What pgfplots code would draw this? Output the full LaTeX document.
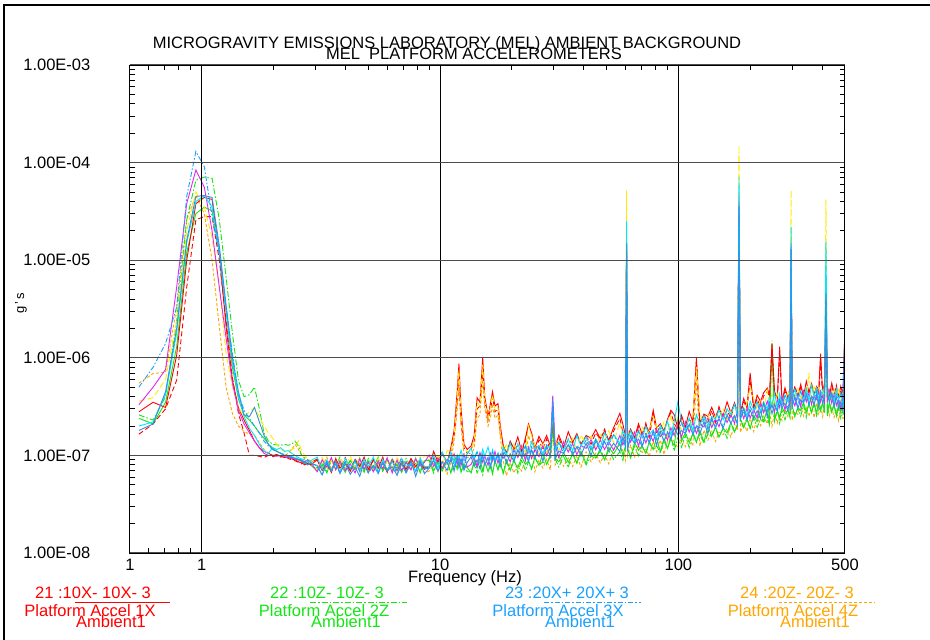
\documentclass[border=0pt]{standalone}
\usepackage{fontspec}
\setmainfont{Liberation Sans}
\usepackage{pgfplots}
\usepackage{pgfplotstable}
\pgfplotsset{compat=1.18}

\definecolor{cRed}{RGB}{255,0,0}
\definecolor{cGrn}{RGB}{20,230,20}
\definecolor{cBlu}{RGB}{25,160,255}
\definecolor{cOra}{RGB}{255,165,0}
\definecolor{cMag}{RGB}{225,40,240}
\definecolor{cYel}{RGB}{255,235,0}
\definecolor{cCya}{RGB}{0,230,255}
\definecolor{cStl}{RGB}{60,140,220}

% columns: frequency, then the ten accelerometer channels (g's)
\pgfplotstableread{
f r g b o m y c rd gs sb
0.545 2.8e-7 2.6e-7 5.0e-7 5.5e-7 3.3e-7 3.6e-7 2.0e-7 1.65e-7 2.4e-7 1.8e-7
0.625 3.5e-7 2.3e-7 8.0e-7 6.9e-7 5.0e-7 3.9e-7 2.2e-7 2.1e-7 2.1e-7 2.1e-7
0.705 3.1e-7 4.0e-7 1.4e-6 7.1e-7 7.6e-7 6.0e-7 4.2e-7 3.0e-7 3.5e-7 4.5e-7
0.785 1.06e-6 2.4e-6 3.3e-6 3.3e-6 5.3e-6 2.4e-6 1.8e-6 5.9e-7 1.3e-6 2.0e-6
0.865 1.0e-5 2.6e-5 4.5e-5 2.6e-5 3.8e-5 2.0e-5 1.5e-5 5.3e-6 1.2e-5 1.6e-5
0.945 3.8e-5 6.6e-5 1.3e-4 4.6e-5 8.4e-5 5.0e-5 4.0e-5 2.6e-5 3.0e-5 4.5e-5
1.025 4.4e-5 7.1e-5 9.1e-5 3.0e-5 5.6e-5 3.5e-5 4.6e-5 2.8e-5 3.5e-5 4.6e-5
1.105 4.2e-5 6.9e-5 2.8e-5 1.0e-5 2.0e-5 1.7e-5 3.5e-5 2.8e-5 3.2e-5 4.4e-5
1.185 1.17e-5 2.6e-5 1.17e-5 2.1e-6 5.3e-6 5.3e-6 1.2e-5 1.0e-5 1.2e-5 1.4e-5
1.265 2.1e-6 6.7e-6 3.3e-6 5.0e-7 1.6e-6 1.1e-6 3.0e-6 2.4e-6 3.0e-6 3.5e-6
1.345 5.9e-7 1.8e-6 1.1e-6 2.7e-7 5.5e-7 5.0e-7 9.0e-7 6.3e-7 8.0e-7 1.0e-6
1.425 3.1e-7 5.9e-7 4.3e-7 2.0e-7 2.9e-7 3.1e-7 4.0e-7 2.7e-7 3.8e-7 4.5e-7
1.505 2.3e-7 4.0e-7 2.9e-7 1.76e-7 2.1e-7 2.5e-7 2.5e-7 1.7e-7 2.6e-7 2.6e-7
1.585 1.8e-7 4.2e-7 2.4e-7 1.65e-7 1.7e-7 2.8e-7 1.9e-7 1.0e-7 2.3e-7 2.5e-7
1.665 1.4e-7 5.0e-7 2.0e-7 1.6e-7 1.4e-7 3.1e-7 1.6e-7 1.0e-7 2.0e-7 3.1e-7
1.745 1.2e-7 3.0e-7 1.7e-7 1.35e-7 1.2e-7 2.5e-7 1.3e-7 0.98e-7 1.7e-7 2.2e-7
1.825 1.1e-7 1.7e-7 1.4e-7 1.15e-7 1.05e-7 2.0e-7 1.1e-7 0.95e-7 1.5e-7 1.6e-7
1.905 1.05e-7 1.4e-7 1.25e-7 1.05e-7 1.0e-7 1.7e-7 1.05e-7 1.0e-7 1.3e-7 1.3e-7
1.985 1.0e-7 1.3e-7 1.15e-7 1.0e-7 1.0e-7 1.5e-7 1.2e-7 0.97e-7 1.2e-7 1.15e-7
2.065 1.02e-7 1.28e-7 1.1e-7 1.02e-7 0.98e-7 1.3e-7 1.15e-7 1.0e-7 1.1e-7 1.1e-7
2.145 0.98e-7 1.27e-7 1.05e-7 0.99e-7 1.0e-7 1.15e-7 1.2e-7 0.96e-7 1.05e-7 1.05e-7
2.225 0.95e-7 1.3e-7 1.02e-7 1.0e-7 0.97e-7 1.1e-7 1.1e-7 1.0e-7 1.0e-7 1.0e-7
2.305 0.97e-7 1.27e-7 1.0e-7 1.05e-7 0.95e-7 1.12e-7 1.12e-7 0.93e-7 0.98e-7 0.97e-7
2.385 0.92e-7 1.3e-7 0.97e-7 1.15e-7 0.93e-7 1.15e-7 1.05e-7 0.9e-7 0.95e-7 0.95e-7
2.465 0.9e-7 1.4e-7 0.95e-7 1.3e-7 0.92e-7 1.2e-7 1.0e-7 0.88e-7 0.94e-7 0.93e-7
2.545 0.86e-7 1.25e-7 0.92e-7 1.15e-7 0.9e-7 1.4e-7 0.95e-7 0.85e-7 0.92e-7 0.9e-7
2.625 0.84e-7 1.0e-7 0.9e-7 1.0e-7 0.88e-7 1.1e-7 0.92e-7 0.82e-7 0.88e-7 0.87e-7
2.705 0.8e-7 0.95e-7 0.86e-7 0.92e-7 0.86e-7 1.0e-7 0.9e-7 0.86e-7 0.82e-7 0.84e-7
2.785 0.83e-7 0.9e-7 0.82e-7 0.88e-7 0.9e-7 0.92e-7 0.86e-7 0.8e-7 0.86e-7 0.8e-7
2.865 0.8e-7 0.86e-7 0.84e-7 0.85e-7 0.85e-7 0.88e-7 0.88e-7 0.84e-7 0.8e-7 0.83e-7
3.05 0.90e-7 0.74e-7 0.78e-7 0.91e-7 0.68e-7 0.69e-7 0.96e-7 0.92e-7 0.69e-7 0.79e-7
3.2 0.70e-7 0.86e-7 0.63e-7 0.77e-7 0.90e-7 0.95e-7 0.72e-7 0.73e-7 0.81e-7 0.63e-7
3.35 0.83e-7 0.69e-7 0.87e-7 0.96e-7 0.76e-7 0.75e-7 0.90e-7 0.85e-7 0.66e-7 0.83e-7
3.5 0.67e-7 0.91e-7 0.69e-7 0.72e-7 0.95e-7 0.89e-7 0.70e-7 0.68e-7 0.90e-7 0.70e-7
3.65 0.93e-7 0.77e-7 0.81e-7 0.90e-7 0.71e-7 0.71e-7 0.83e-7 0.90e-7 0.72e-7 0.88e-7
3.8 0.74e-7 0.96e-7 0.65e-7 0.70e-7 0.88e-7 0.93e-7 0.67e-7 0.76e-7 0.84e-7 0.66e-7
4.0 0.86e-7 0.72e-7 0.86e-7 0.83e-7 0.70e-7 0.79e-7 0.93e-7 0.95e-7 0.67e-7 0.82e-7
4.2 0.69e-7 0.90e-7 0.72e-7 0.67e-7 0.82e-7 0.98e-7 0.74e-7 0.71e-7 0.89e-7 0.64e-7
4.4 0.91e-7 0.70e-7 0.90e-7 0.93e-7 0.66e-7 0.74e-7 0.86e-7 0.88e-7 0.75e-7 0.76e-7
4.6 0.77e-7 0.83e-7 0.68e-7 0.74e-7 0.92e-7 0.92e-7 0.69e-7 0.70e-7 0.94e-7 0.61e-7
4.8 0.96e-7 0.67e-7 0.84e-7 0.86e-7 0.73e-7 0.72e-7 0.91e-7 0.82e-7 0.70e-7 0.85e-7
5.0 0.72e-7 0.93e-7 0.66e-7 0.69e-7 0.85e-7 0.85e-7 0.77e-7 0.66e-7 0.87e-7 0.67e-7
5.25 0.90e-7 0.74e-7 0.78e-7 0.91e-7 0.68e-7 0.69e-7 0.96e-7 0.92e-7 0.69e-7 0.79e-7
5.5 0.74e-7 0.96e-7 0.65e-7 0.70e-7 0.88e-7 0.93e-7 0.67e-7 0.76e-7 0.84e-7 0.66e-7
5.75 0.96e-7 0.67e-7 0.84e-7 0.86e-7 0.73e-7 0.72e-7 0.91e-7 0.82e-7 0.70e-7 0.85e-7
6.0 0.67e-7 0.91e-7 0.69e-7 0.72e-7 0.95e-7 0.89e-7 0.70e-7 0.68e-7 0.90e-7 0.70e-7
6.3 0.91e-7 0.70e-7 0.90e-7 0.93e-7 0.66e-7 0.74e-7 0.86e-7 0.88e-7 0.75e-7 0.76e-7
6.6 0.70e-7 0.86e-7 0.63e-7 0.77e-7 0.90e-7 0.95e-7 0.72e-7 0.73e-7 0.81e-7 0.63e-7
6.9 0.86e-7 0.72e-7 0.86e-7 0.83e-7 0.70e-7 0.79e-7 0.93e-7 0.95e-7 0.67e-7 0.82e-7
7.2 0.72e-7 0.93e-7 0.66e-7 0.69e-7 0.85e-7 0.85e-7 0.77e-7 0.66e-7 0.87e-7 0.67e-7
7.55 0.93e-7 0.77e-7 0.81e-7 0.90e-7 0.71e-7 0.71e-7 0.83e-7 0.90e-7 0.72e-7 0.88e-7
7.9 0.77e-7 0.83e-7 0.68e-7 0.74e-7 0.92e-7 0.92e-7 0.69e-7 0.70e-7 0.94e-7 0.61e-7
8.25 0.85e-7 0.69e-7 0.88e-7 0.95e-7 0.78e-7 0.78e-7 0.93e-7 0.88e-7 0.66e-7 0.84e-7
8.6 0.72e-7 0.89e-7 0.73e-7 0.66e-7 0.85e-7 1.0e-7 0.77e-7 0.74e-7 0.88e-7 0.65e-7
9.0 0.77e-7 0.89e-7 0.74e-7 0.69e-7 1.01e-7 0.96e-7 0.77e-7 0.77e-7 0.90e-7 0.74e-7
9.4 1.10e-7 0.66e-7 0.90e-7 0.83e-7 0.77e-7 0.78e-7 1.0e-7 0.94e-7 0.70e-7 0.89e-7
9.8 0.85e-7 0.94e-7 0.69e-7 0.68e-7 0.94e-7 1.01e-7 0.74e-7 0.86e-7 0.84e-7 0.69e-7
10.2 1.06e-7 0.71e-7 0.86e-7 0.87e-7 0.74e-7 0.77e-7 1.08e-7 1.07e-7 0.69e-7 0.86e-7
10.7 0.83e-7 0.87e-7 0.81e-7 0.64e-7 0.91e-7 1.12e-7 0.84e-7 0.85e-7 0.89e-7 0.70e-7
11.1 1.2e-7 0.66e-7 1.0e-7 0.85e-7 0.86e-7 1.1e-7 1.09e-7 1.1e-7 0.66e-7 0.93e-7
11.45 1.8e-7 0.80e-7 0.77e-7 1.4e-7 1.04e-7 1.6e-7 0.83e-7 1.6e-7 0.94e-7 0.69e-7
11.8 4.5e-7 0.74e-7 0.93e-7 3.0e-7 0.81e-7 3.8e-7 1.01e-7 3.5e-7 0.72e-7 0.98e-7
12.0 8.7e-7 0.89e-7 0.76e-7 5.0e-7 0.97e-7 7.5e-7 0.93e-7 6.5e-7 0.87e-7 0.75e-7
12.25 3.0e-7 0.69e-7 0.98e-7 2.0e-7 0.79e-7 2.5e-7 1.13e-7 2.2e-7 0.67e-7 0.92e-7
12.6 1.3e-7 0.83e-7 0.72e-7 1.0e-7 1.03e-7 1.2e-7 0.87e-7 1.2e-7 0.81e-7 0.71e-7
13.0 1.15e-7 0.68e-7 1.03e-7 0.95e-7 0.76e-7 1.08e-7 1.05e-7 1.05e-7 0.75e-7 0.85e-7
13.5 1.25e-7 0.68e-7 1.05e-7 0.98e-7 0.81e-7 1.15e-7 1.18e-7 1.15e-7 0.66e-7 0.97e-7
13.9 1.6e-7 0.84e-7 0.88e-7 1.2e-7 0.96e-7 1.4e-7 0.94e-7 1.4e-7 0.88e-7 0.77e-7
14.3 3.9e-7 0.66e-7 1.10e-7 2.4e-7 0.77e-7 3.5e-7 1.10e-7 3.0e-7 0.74e-7 0.90e-7
14.7 3.5e-7 0.78e-7 0.83e-7 2.6e-7 1.07e-7 3.2e-7 0.88e-7 3.2e-7 0.92e-7 0.73e-7
15.1 10.0e-7 0.63e-7 1.03e-7 6.0e-7 0.85e-7 8.5e-7 1.16e-7 7.5e-7 0.69e-7 1.01e-7
15.4 4.0e-7 0.87e-7 0.81e-7 3.0e-7 0.99e-7 3.6e-7 0.98e-7 3.5e-7 0.86e-7 0.80e-7
15.9 2.5e-7 0.69e-7 0.96e-7 2.0e-7 0.79e-7 2.4e-7 1.22e-7 2.3e-7 0.68e-7 0.94e-7
16.3 3.5e-7 0.81e-7 0.77e-7 2.5e-7 1.05e-7 3.2e-7 0.92e-7 3.0e-7 0.80e-7 0.75e-7
16.6 4.5e-7 0.65e-7 1.07e-7 3.2e-7 0.88e-7 4.2e-7 1.14e-7 4.0e-7 0.65e-7 0.99e-7
17.0 3.2e-7 0.86e-7 0.85e-7 2.4e-7 1.10e-7 2.9e-7 0.90e-7 2.8e-7 0.89e-7 0.84e-7
17.5 3.4e-7 0.72e-7 0.99e-7 2.6e-7 0.83e-7 3.1e-7 1.06e-7 3.0e-7 0.71e-7 1.04e-7
17.9 2.0e-7 0.90e-7 0.79e-7 1.5e-7 1.03e-7 1.8e-7 0.86e-7 1.7e-7 0.83e-7 0.78e-7
18.4 1.27e-7 0.65e-7 1.14e-7 0.88e-7 0.94e-7 1.01e-7 1.23e-7 1.25e-7 0.66e-7 1.06e-7
19.0 1.06e-7 0.85e-7 0.95e-7 0.62e-7 1.03e-7 1.33e-7 1.02e-7 1.05e-7 0.90e-7 0.83e-7
19.7 1.40e-7 0.70e-7 1.04e-7 0.84e-7 0.86e-7 0.94e-7 1.34e-7 1.37e-7 0.70e-7 1.03e-7
20.4 1.17e-7 0.93e-7 0.88e-7 0.66e-7 1.14e-7 1.30e-7 0.96e-7 1.16e-7 0.88e-7 0.87e-7
21.2 1.55e-7 0.66e-7 1.15e-7 0.82e-7 0.95e-7 1.02e-7 1.32e-7 1.26e-7 0.74e-7 1.14e-7
22.0 1.09e-7 0.90e-7 0.96e-7 0.69e-7 1.25e-7 1.26e-7 1.02e-7 1.06e-7 0.97e-7 0.95e-7
22.8 1.5e-7 0.70e-7 1.26e-7 0.90e-7 0.88e-7 1.06e-7 1.27e-7 1.39e-7 0.81e-7 1.04e-7
23.5 2.1e-7 0.87e-7 0.89e-7 1.6e-7 1.21e-7 2.0e-7 1.07e-7 2.0e-7 0.88e-7 0.87e-7
24.2 1.7e-7 0.72e-7 1.21e-7 1.3e-7 0.93e-7 1.6e-7 1.38e-7 1.7e-7 0.73e-7 1.13e-7
25 1.20e-7 0.94e-7 0.94e-7 0.68e-7 1.16e-7 1.25e-7 1.15e-7 1.06e-7 0.96e-7 0.94e-7
26 1.57e-7 0.79e-7 1.17e-7 0.90e-7 0.97e-7 1.04e-7 1.26e-7 1.45e-7 0.79e-7 1.23e-7
27 1.31e-7 0.86e-7 0.98e-7 0.74e-7 1.26e-7 1.37e-7 1.05e-7 1.13e-7 1.05e-7 0.87e-7
28 1.60e-7 0.81e-7 1.19e-7 0.91e-7 0.99e-7 1.06e-7 1.28e-7 1.48e-7 0.81e-7 1.26e-7
29 1.25e-7 0.97e-7 0.98e-7 0.71e-7 1.20e-7 1.29e-7 1.19e-7 1.10e-7 1.0e-7 0.97e-7
29.7 2.3e-7 2.0e-7 3.8e-7 1.8e-7 4.1e-7 2.5e-7 2.8e-7 2.2e-7 1.9e-7 3.3e-7
30.4 1.23e-7 0.92e-7 0.94e-7 0.80e-7 1.28e-7 1.45e-7 1.13e-7 1.21e-7 0.94e-7 0.91e-7
31.5 1.61e-7 0.76e-7 1.36e-7 0.97e-7 0.95e-7 1.14e-7 1.37e-7 1.49e-7 0.86e-7 1.11e-7
33 1.21e-7 0.99e-7 1.06e-7 0.77e-7 1.38e-7 1.39e-7 1.14e-7 1.17e-7 1.07e-7 1.05e-7
34.5 1.75e-7 0.75e-7 1.31e-7 0.94e-7 1.08e-7 1.15e-7 1.49e-7 1.44e-7 0.85e-7 1.29e-7
36 1.36e-7 1.08e-7 1.01e-7 0.77e-7 1.32e-7 1.50e-7 1.11e-7 1.33e-7 1.02e-7 1.01e-7
37.5 1.67e-7 0.83e-7 1.24e-7 1.0e-7 1.02e-7 1.12e-7 1.60e-7 1.62e-7 0.84e-7 1.22e-7
39 1.30e-7 1.03e-7 1.16e-7 0.76e-7 1.26e-7 1.63e-7 1.25e-7 1.29e-7 1.11e-7 1.01e-7
41 1.60e-7 0.80e-7 1.43e-7 1.09e-7 1.18e-7 1.27e-7 1.55e-7 1.57e-7 0.82e-7 1.33e-7
43 1.50e-7 0.99e-7 1.13e-7 0.86e-7 1.45e-7 1.57e-7 1.20e-7 1.30e-7 1.20e-7 1.0e-7
45 1.84e-7 0.93e-7 1.37e-7 1.05e-7 1.14e-7 1.22e-7 1.48e-7 1.71e-7 0.94e-7 1.45e-7
47 1.48e-7 1.18e-7 1.11e-7 0.84e-7 1.44e-7 1.64e-7 1.21e-7 1.46e-7 1.11e-7 1.11e-7
49 1.77e-7 0.90e-7 1.49e-7 1.01e-7 1.15e-7 1.41e-7 1.71e-7 1.86e-7 0.90e-7 1.39e-7
51 1.43e-7 1.13e-7 1.28e-7 0.82e-7 1.38e-7 1.79e-7 1.37e-7 1.41e-7 1.21e-7 1.11e-7
53.5 1.93e-7 0.91e-7 1.62e-7 1.16e-7 1.13e-7 1.36e-7 1.63e-7 1.78e-7 1.04e-7 1.33e-7
56.8 2.7e-7 1.09e-7 1.24e-7 1.3e-7 1.60e-7 2.2e-7 1.33e-7 2.4e-7 1.32e-7 1.10e-7
58.5 2.09e-7 0.89e-7 1.56e-7 1.11e-7 1.28e-7 1.37e-7 1.78e-7 1.71e-7 1.0e-7 1.53e-7
60 1.58e-7 1.23e-7 1.23e-7 0.89e-7 1.51e-7 1.63e-7 1.51e-7 1.39e-7 1.25e-7 1.22e-7
60.6 1.2e-5 1.6e-5 1.5e-5 1.0e-5 1.3e-5 5.2e-5 2.5e-5 1.1e-5 1.4e-5 1.5e-5
61.2 1.55e-7 1.16e-7 1.18e-7 1.0e-7 1.61e-7 1.83e-7 1.42e-7 1.53e-7 1.18e-7 1.15e-7
63 1.86e-7 0.94e-7 1.66e-7 1.27e-7 1.37e-7 1.47e-7 1.79e-7 1.83e-7 0.96e-7 1.55e-7
65.5 1.52e-7 1.25e-7 1.33e-7 0.96e-7 1.74e-7 1.75e-7 1.43e-7 1.47e-7 1.35e-7 1.32e-7
68 2.11e-7 0.99e-7 1.78e-7 1.28e-7 1.24e-7 1.49e-7 1.79e-7 1.96e-7 1.13e-7 1.47e-7
70.5 1.65e-7 1.23e-7 1.26e-7 1.07e-7 1.71e-7 1.95e-7 1.51e-7 1.63e-7 1.25e-7 1.23e-7
73 2.05e-7 1.04e-7 1.73e-7 1.16e-7 1.34e-7 1.63e-7 1.97e-7 2.15e-7 1.05e-7 1.61e-7
75.5 1.74e-7 1.36e-7 1.36e-7 0.98e-7 1.66e-7 1.79e-7 1.65e-7 1.53e-7 1.38e-7 1.34e-7
78.4 2.9e-7 1.14e-7 1.68e-7 1.4e-7 1.40e-7 2.5e-7 1.82e-7 2.7e-7 1.15e-7 1.78e-7
81 1.91e-7 1.26e-7 1.43e-7 1.09e-7 1.84e-7 1.99e-7 1.53e-7 1.65e-7 1.52e-7 1.27e-7
84 2.11e-7 1.06e-7 1.88e-7 1.44e-7 1.56e-7 1.67e-7 2.03e-7 2.06e-7 1.09e-7 1.76e-7
87 1.77e-7 1.40e-7 1.58e-7 1.02e-7 1.72e-7 2.22e-7 1.70e-7 1.76e-7 1.50e-7 1.38e-7
90 2.35e-7 1.18e-7 1.75e-7 1.41e-7 1.44e-7 1.58e-7 2.26e-7 2.30e-7 1.18e-7 1.73e-7
93 2.9e-7 1.56e-7 1.47e-7 1.5e-7 1.92e-7 2.6e-7 1.61e-7 2.75e-7 1.48e-7 1.46e-7
96 2.62e-7 1.11e-7 1.95e-7 1.39e-7 1.60e-7 1.72e-7 2.22e-7 2.13e-7 1.25e-7 1.91e-7
99.6 1.87e-7 1.54e-7 1.64e-7 1.19e-7 2.14e-7 2.15e-7 3.6e-7 1.81e-7 2.4e-7 1.62e-7
103 2.58e-7 1.21e-7 2.17e-7 1.55e-7 1.52e-7 1.83e-7 2.19e-7 2.40e-7 1.39e-7 1.79e-7
107 1.94e-7 1.61e-7 1.70e-7 1.23e-7 2.22e-7 2.24e-7 1.82e-7 1.87e-7 1.72e-7 1.69e-7
111 2.82e-7 1.20e-7 2.11e-7 1.50e-7 1.73e-7 1.86e-7 2.41e-7 2.31e-7 1.35e-7 2.08e-7
115 2.21e-7 1.75e-7 1.65e-7 1.25e-7 2.15e-7 2.45e-7 1.81e-7 2.18e-7 1.66e-7 1.64e-7
119 10.0e-7 1.36e-7 2.03e-7 6.0e-7 1.68e-7 8.0e-7 2.62e-7 9.0e-7 1.37e-7 2.0e-7
123 2.14e-7 1.69e-7 1.91e-7 1.24e-7 2.07e-7 2.68e-7 2.05e-7 2.12e-7 1.81e-7 1.66e-7
128 2.65e-7 1.33e-7 2.37e-7 1.81e-7 1.96e-7 2.10e-7 2.55e-7 2.60e-7 1.37e-7 2.21e-7
133 2.51e-7 1.65e-7 1.88e-7 1.43e-7 2.42e-7 2.62e-7 2.01e-7 2.17e-7 2.0e-7 1.67e-7
138 3.11e-7 1.56e-7 2.31e-7 1.77e-7 1.93e-7 2.06e-7 2.50e-7 2.88e-7 1.57e-7 2.44e-7
143 2.47e-7 1.93e-7 1.93e-7 1.39e-7 2.37e-7 2.55e-7 2.35e-7 2.17e-7 1.96e-7 1.91e-7
148 3.02e-7 1.53e-7 2.55e-7 1.73e-7 1.97e-7 2.41e-7 2.91e-7 3.17e-7 1.54e-7 2.39e-7
154 2.53e-7 1.89e-7 1.93e-7 1.63e-7 2.62e-7 2.99e-7 2.32e-7 2.49e-7 1.91e-7 1.88e-7
160 3.54e-7 1.50e-7 2.64e-7 1.89e-7 2.17e-7 2.32e-7 3.01e-7 2.89e-7 1.70e-7 2.60e-7
166 2.73e-7 2.13e-7 2.13e-7 1.54e-7 2.61e-7 2.82e-7 2.60e-7 2.40e-7 2.17e-7 2.12e-7
172 3.47e-7 1.73e-7 2.58e-7 2.10e-7 2.13e-7 2.34e-7 3.34e-7 3.40e-7 1.74e-7 2.55e-7
177 2.78e-7 2.07e-7 2.13e-7 1.80e-7 2.88e-7 3.28e-7 2.55e-7 2.75e-7 2.10e-7 2.06e-7
179.6 3.5e-5 4.0e-5 3.5e-5 3.0e-5 4.5e-5 1.5e-4 7.2e-5 3.2e-5 3.8e-5 3.6e-5
182 2.71e-7 2.23e-7 2.37e-7 1.72e-7 3.10e-7 3.12e-7 2.54e-7 2.61e-7 2.39e-7 2.35e-7
188 3.83e-7 1.93e-7 2.85e-7 2.18e-7 2.38e-7 2.55e-7 3.08e-7 3.56e-7 1.94e-7 3.01e-7
194 3.11e-7 2.46e-7 2.32e-7 1.76e-7 3.02e-7 3.44e-7 2.54e-7 3.06e-7 2.33e-7 2.31e-7
200 7.0e-7 1.89e-7 3.15e-7 2.4e-7 2.43e-7 5.0e-7 3.58e-7 6.0e-7 1.90e-7 2.93e-7
207 3.04e-7 2.41e-7 2.72e-7 1.76e-7 2.94e-7 3.80e-7 2.92e-7 3.01e-7 2.58e-7 2.37e-7
214 4.14e-7 1.94e-7 3.48e-7 2.49e-7 2.44e-7 2.93e-7 3.51e-7 3.83e-7 2.23e-7 2.87e-7
221 3.56e-7 2.35e-7 2.67e-7 2.02e-7 3.45e-7 3.73e-7 2.86e-7 3.08e-7 2.86e-7 2.37e-7
228 4.40e-7 2.21e-7 3.27e-7 2.51e-7 2.73e-7 2.92e-7 3.53e-7 4.08e-7 2.23e-7 3.46e-7
236 4.9e-7 2.45e-7 2.79e-7 2.11e-7 3.60e-7 4.6e-7 2.98e-7 4.5e-7 2.98e-7 2.48e-7
241 4.09e-7 2.06e-7 3.64e-7 2.78e-7 3.01e-7 3.24e-7 3.94e-7 4.01e-7 2.11e-7 3.40e-7
247 14.0e-7 15.0e-7 3.06e-7 1.98e-7 3.32e-7 4.28e-7 3.28e-7 12.0e-7 13.0e-7 2.67e-7
253 4.54e-7 2.26e-7 3.37e-7 2.74e-7 2.79e-7 3.05e-7 4.36e-7 4.43e-7 2.28e-7 3.33e-7
260 3.80e-7 3.01e-7 2.84e-7 2.15e-7 3.70e-7 4.22e-7 3.11e-7 3.73e-7 2.85e-7 2.83e-7
266 13.0e-7 2.14e-7 3.75e-7 2.68e-7 3.08e-7 3.30e-7 4.28e-7 11.0e-7 2.41e-7 3.69e-7
272 3.57e-7 2.94e-7 3.13e-7 2.27e-7 4.08e-7 4.11e-7 3.35e-7 3.45e-7 3.16e-7 3.10e-7
280 4.94e-7 2.31e-7 4.15e-7 2.97e-7 2.91e-7 3.49e-7 4.19e-7 4.57e-7 2.66e-7 3.42e-7
288 3.87e-7 2.89e-7 2.96e-7 2.50e-7 4.01e-7 4.57e-7 3.55e-7 3.82e-7 2.93e-7 2.87e-7
294 4.81e-7 2.44e-7 4.06e-7 2.74e-7 3.13e-7 3.83e-7 4.63e-7 5.04e-7 2.45e-7 3.79e-7
297 1.3e-5 1.4e-5 1.3e-5 1.2e-5 1.5e-5 5.2e-5 2.2e-5 1.25e-5 1.35e-5 1.3e-5
300 4.05e-7 3.18e-7 3.17e-7 2.29e-7 3.89e-7 4.19e-7 3.87e-7 3.57e-7 3.23e-7 3.15e-7
308 4.95e-7 2.50e-7 4.17e-7 2.82e-7 3.22e-7 3.94e-7 4.76e-7 5.18e-7 2.52e-7 3.90e-7
317 4.08e-7 3.05e-7 3.12e-7 2.64e-7 4.23e-7 4.83e-7 3.74e-7 4.03e-7 3.09e-7 3.03e-7
326 5.36e-7 2.52e-7 4.51e-7 3.22e-7 3.16e-7 3.79e-7 4.55e-7 4.97e-7 2.89e-7 3.71e-7
335 3.99e-7 3.29e-7 3.50e-7 2.53e-7 4.56e-7 4.60e-7 3.75e-7 3.85e-7 3.53e-7 3.47e-7
344 5.76e-7 2.45e-7 4.30e-7 3.07e-7 3.53e-7 3.78e-7 4.90e-7 4.71e-7 2.76e-7 4.23e-7
353 4.45e-7 3.53e-7 3.33e-7 2.52e-7 4.33e-7 7.0e-7 3.64e-7 4.39e-7 3.35e-7 3.31e-7
362 5.44e-7 2.72e-7 4.05e-7 3.28e-7 3.35e-7 3.66e-7 5.23e-7 5.32e-7 2.74e-7 4.0e-7
371 4.20e-7 3.32e-7 3.74e-7 2.43e-7 4.06e-7 5.24e-7 4.02e-7 4.14e-7 3.56e-7 3.26e-7
380 5.09e-7 2.55e-7 4.54e-7 3.47e-7 3.75e-7 4.03e-7 4.91e-7 4.98e-7 2.63e-7 4.23e-7
388 4.70e-7 3.10e-7 3.53e-7 2.67e-7 4.55e-7 4.92e-7 3.78e-7 4.07e-7 3.77e-7 3.12e-7
395 11.0e-7 2.86e-7 4.23e-7 3.25e-7 3.53e-7 3.78e-7 4.57e-7 9.5e-7 2.89e-7 4.46e-7
403 4.40e-7 3.45e-7 3.44e-7 2.49e-7 4.22e-7 4.56e-7 4.20e-7 3.87e-7 3.51e-7 3.41e-7
410 5.47e-7 2.72e-7 4.06e-7 3.29e-7 3.35e-7 3.67e-7 5.24e-7 5.34e-7 2.75e-7 4.0e-7
416 3.5e-6 4.0e-6 4.6e-6 3.0e-6 5.0e-6 4.2e-5 1.55e-5 3.2e-6 3.8e-6 4.4e-6
422 5.03e-7 2.53e-7 4.49e-7 3.43e-7 3.72e-7 3.98e-7 4.85e-7 4.94e-7 2.60e-7 4.20e-7
430 4.03e-7 3.33e-7 3.53e-7 2.56e-7 4.61e-7 4.64e-7 3.78e-7 3.90e-7 3.56e-7 3.50e-7
440 5.51e-7 2.77e-7 4.10e-7 3.15e-7 3.42e-7 3.66e-7 4.43e-7 5.11e-7 2.80e-7 4.33e-7
450 4.32e-7 3.43e-7 3.23e-7 2.45e-7 4.21e-7 4.80e-7 3.54e-7 4.26e-7 3.25e-7 3.21e-7
460 5.0e-7 2.53e-7 4.22e-7 2.85e-7 3.26e-7 3.97e-7 4.80e-7 5.24e-7 2.55e-7 3.94e-7
470 3.91e-7 3.10e-7 3.49e-7 2.26e-7 3.79e-7 4.90e-7 3.75e-7 3.87e-7 3.32e-7 3.04e-7
480 5.11e-7 2.39e-7 4.30e-7 3.07e-7 3.01e-7 3.61e-7 4.33e-7 4.73e-7 2.75e-7 3.54e-7
490 4.22e-7 2.79e-7 3.17e-7 2.39e-7 4.08e-7 4.41e-7 3.39e-7 3.65e-7 3.38e-7 2.81e-7
497 14.0e-7 2.6e-7 13.0e-7 2.5e-7 3.5e-7 4.0e-7 3.8e-7 12.0e-7 2.7e-7 11.0e-7
500 3.88e-7 3.04e-7 3.04e-7 2.19e-7 3.73e-7 4.01e-7 3.71e-7 3.42e-7 3.09e-7 3.02e-7
}\spectra

\begin{document}
\fontsize{16.5}{19}\selectfont
\begin{tikzpicture}
\useasboundingbox (-130pt,-87pt) rectangle (800pt,553pt);
\begin{axis}[
    at={(0pt,0pt)}, anchor=south west,
    scale only axis, width=715pt, height=488pt,
    xmode=log, ymode=log,
    xmin=0.5, xmax=500, ymin=1e-8, ymax=1e-3,
    xtick={0.5,1,10,100,500},
    xticklabels={1,1,10,100,500},
    ytick={1e-8,1e-7,1e-6,1e-5,1e-4,1e-3},
    yticklabels={1.00E-08,1.00E-07,1.00E-06,1.00E-05,1.00E-04,1.00E-03},
    minor xtick={0.6,0.7,0.8,0.9,2,3,4,5,6,7,8,9,20,30,40,50,60,70,80,90,200,300,400},
    minor ytick={2e-8,3e-8,4e-8,5e-8,6e-8,7e-8,8e-8,9e-8,
                 2e-7,3e-7,4e-7,5e-7,6e-7,7e-7,8e-7,9e-7,
                 2e-6,3e-6,4e-6,5e-6,6e-6,7e-6,8e-6,9e-6,
                 2e-5,3e-5,4e-5,5e-5,6e-5,7e-5,8e-5,9e-5,
                 2e-4,3e-4,4e-4,5e-4,6e-4,7e-4,8e-4,9e-4},
    tick align=inside,
    major tick length=0pt, minor tick length=5pt,
    tick style={black, line width=0.8pt},
    xmajorgrids, ymajorgrids,
    x grid style={black, line width=1pt},
    y grid style={black!70, line width=1.3pt},
    axis line style={black, line width=1pt},
    axis on top,
    tick label style={font=\fontsize{16.5}{19}\selectfont},
    yticklabel style={xshift=-34pt},
    every axis plot/.append style={line width=0.9pt},
]
\addplot[cOra, dash pattern=on 3pt off 2pt] table[x=f, y=o] {\spectra};
\addplot[cGrn, dash pattern=on 6pt off 2pt on 1.5pt off 2pt] table[x=f, y=g] {\spectra};
\addplot[cGrn] table[x=f, y=gs] {\spectra};
\addplot[cRed, dash pattern=on 5pt off 3pt] table[x=f, y=rd] {\spectra};
\addplot[cRed] table[x=f, y=r] {\spectra};
\addplot[cYel, dash pattern=on 6pt off 3pt] table[x=f, y=y] {\spectra};
\addplot[cMag] table[x=f, y=m] {\spectra};
\addplot[cCya] table[x=f, y=c] {\spectra};
\addplot[cStl] table[x=f, y=sb] {\spectra};
\addplot[cBlu, dash pattern=on 5pt off 2pt on 1.5pt off 2pt] table[x=f, y=b] {\spectra};
\end{axis}

\begin{scope}[x=1pt, y=-1pt, shift={(-130pt,553pt)}, every node/.style={inner sep=0pt, anchor=base}]
  % page frame
  \draw[line width=1.5pt] (4,645) -- (4,5) -- (935,5);
  % titles
  \node at (447,49) {MICROGRAVITY EMISSIONS LABORATORY (MEL) AMBIENT BACKGROUND};
  \node at (474,60) {MEL\ \ PLATFORM ACCELEROMETERS};
  \node at (465,583) {Frequency (Hz)};
  \node[rotate=90, anchor=center, font=\fontsize{13}{15}\selectfont] at (21,303) {g\,'\,s};
  % channel legend
  \node[cRed] at (93,599) {21 :10X- 10X- 3};
  \draw[cRed, line width=1pt] (75,603) -- (170,603);
  \node[cRed] at (90,617) {Platform Accel 1X};
  \node[cRed] at (111,628) {Ambient1};
  \node[cGrn] at (327,599) {22 :10Z- 10Z- 3};
  \draw[cGrn, line width=1pt, dash pattern=on 6pt off 2pt on 1.5pt off 2pt] (310,603) -- (407,603);
  \node[cGrn] at (324,617) {Platform Accel 2Z};
  \node[cGrn] at (346,628) {Ambient1};
  \node[cBlu] at (567,599) {23 :20X+ 20X+ 3};
  \draw[cBlu, line width=1pt, dash pattern=on 5pt off 2pt on 1.5pt off 2pt] (544,603) -- (641,603);
  \node[cBlu] at (558,617) {Platform Accel 3X};
  \node[cBlu] at (580,628) {Ambient1};
  \node[cOra] at (797,599) {24 :20Z- 20Z- 3};
  \draw[cOra, line width=1pt, dash pattern=on 3pt off 2pt] (779,603) -- (875,603);
  \node[cOra] at (793,617) {Platform Accel 4Z};
  \node[cOra] at (815,628) {Ambient1};
\end{scope}
\end{tikzpicture}
\end{document}
